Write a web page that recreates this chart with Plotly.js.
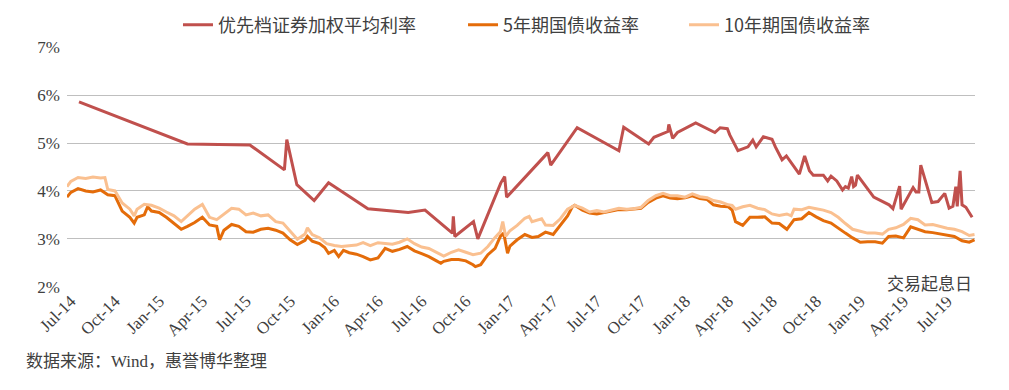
<!DOCTYPE html>
<html>
<head>
<meta charset="utf-8">
<script src="https://cdn.plot.ly/plotly-3.0.1.min.js"></script>
<style>html,body{margin:0;padding:0;background:#fff;}#chart{width:1009px;height:390px;}</style>
</head>
<body>
<div id="chart"></div>
<script>
// 优先档证券加权平均利率
const seniorDates = ["2014-07-18","2015-03-01","2015-07-09","2015-09-19","2015-09-24","2015-10-15","2015-11-20","2015-12-20","2016-03-11","2016-06-03","2016-07-08","2016-09-03","2016-09-05","2016-09-08","2016-10-17","2016-10-26","2016-12-13","2016-12-21","2016-12-25","2017-03-21","2017-03-27","2017-05-21","2017-08-16","2017-08-26","2017-10-17","2017-10-28","2017-11-26","2017-11-28","2017-12-06","2017-12-16","2018-01-23","2018-03-04","2018-03-15","2018-03-30","2018-04-04","2018-04-21","2018-05-12","2018-05-22","2018-05-29","2018-06-13","2018-07-01","2018-07-08","2018-07-22","2018-07-31","2018-08-27","2018-09-07","2018-09-17","2018-09-25","2018-10-16","2018-10-25","2018-11-01","2018-11-13","2018-11-25","2018-12-01","2018-12-07","2018-12-14","2018-12-18","2018-12-22","2018-12-26","2019-01-29","2019-03-02","2019-03-10","2019-03-24","2019-03-27","2019-04-21","2019-04-27","2019-05-03","2019-05-07","2019-05-30","2019-06-12","2019-06-26","2019-07-05","2019-07-13","2019-07-19","2019-07-22","2019-07-28","2019-08-01","2019-08-09","2019-08-22"];
const seniorVals = [5.86,4.98,4.96,4.44,5.07,4.13,3.80,4.17,3.63,3.55,3.60,3.12,3.47,3.05,3.36,3.00,4.17,4.30,3.87,4.80,4.54,5.32,4.84,5.33,4.98,5.12,5.24,5.39,5.10,5.22,5.42,5.22,5.32,5.30,5.17,4.84,4.92,5.06,4.92,5.13,5.08,4.92,4.65,4.73,4.35,4.73,4.42,4.33,4.33,4.21,4.31,4.21,4.02,4.09,4.06,4.30,4.09,4.12,4.33,3.87,3.71,3.63,4.10,3.62,4.07,3.98,3.98,4.54,3.76,3.78,3.95,3.64,3.68,4.09,3.68,4.42,3.71,3.66,3.45];

// 5年期国债收益率
const y5Dates = ["2014-06-23","2014-07-01","2014-07-16","2014-08-01","2014-08-16","2014-09-01","2014-09-16","2014-10-01","2014-10-16","2014-11-01","2014-11-10","2014-11-16","2014-12-01","2014-12-08","2014-12-16","2015-01-01","2015-01-16","2015-02-01","2015-02-16","2015-03-01","2015-03-16","2015-04-01","2015-04-16","2015-05-01","2015-05-07","2015-05-16","2015-06-01","2015-06-16","2015-07-01","2015-07-16","2015-08-01","2015-08-16","2015-09-01","2015-09-16","2015-10-01","2015-10-16","2015-11-01","2015-11-06","2015-11-16","2015-12-01","2015-12-12","2015-12-20","2016-01-01","2016-01-10","2016-01-20","2016-02-01","2016-02-16","2016-03-01","2016-03-16","2016-04-01","2016-04-16","2016-05-01","2016-05-16","2016-06-01","2016-06-16","2016-07-01","2016-07-16","2016-08-01","2016-08-10","2016-08-16","2016-09-01","2016-09-16","2016-10-01","2016-10-16","2016-10-21","2016-11-01","2016-11-16","2016-12-01","2016-12-12","2016-12-19","2016-12-27","2017-01-01","2017-01-16","2017-02-01","2017-02-16","2017-03-01","2017-03-16","2017-04-01","2017-04-16","2017-05-01","2017-05-11","2017-05-16","2017-06-01","2017-06-16","2017-07-01","2017-07-16","2017-08-01","2017-08-16","2017-09-01","2017-09-16","2017-10-01","2017-10-16","2017-11-01","2017-11-16","2017-12-01","2017-12-16","2018-01-01","2018-01-16","2018-02-01","2018-02-16","2018-03-01","2018-03-16","2018-04-01","2018-04-09","2018-04-16","2018-05-01","2018-05-16","2018-06-01","2018-06-16","2018-07-01","2018-07-16","2018-08-01","2018-08-16","2018-09-01","2018-09-16","2018-10-01","2018-10-16","2018-11-01","2018-11-16","2018-12-01","2018-12-16","2019-01-01","2019-01-16","2019-02-01","2019-02-16","2019-03-01","2019-03-16","2019-04-01","2019-04-16","2019-05-01","2019-05-16","2019-06-01","2019-06-16","2019-07-01","2019-07-16","2019-08-01","2019-08-16","2019-08-27"];
const y5Vals = [3.87,3.97,4.05,4.00,3.98,4.02,3.92,3.90,3.58,3.45,3.33,3.45,3.50,3.67,3.58,3.55,3.45,3.32,3.20,3.26,3.34,3.45,3.29,3.26,2.98,3.18,3.30,3.26,3.15,3.14,3.20,3.22,3.18,3.12,2.98,2.88,2.97,3.05,2.95,2.90,2.82,2.70,2.76,2.63,2.76,2.71,2.68,2.63,2.56,2.60,2.80,2.74,2.78,2.84,2.75,2.69,2.63,2.54,2.49,2.53,2.57,2.57,2.54,2.46,2.42,2.46,2.67,2.80,3.05,3.12,2.70,2.85,2.98,3.09,3.03,3.05,3.14,3.09,3.28,3.48,3.67,3.70,3.60,3.54,3.52,3.55,3.57,3.61,3.61,3.62,3.64,3.76,3.85,3.90,3.85,3.84,3.86,3.90,3.84,3.82,3.71,3.68,3.67,3.60,3.36,3.28,3.45,3.45,3.46,3.33,3.32,3.20,3.40,3.42,3.55,3.46,3.38,3.33,3.22,3.12,3.02,2.93,2.94,2.94,2.91,3.05,3.06,3.02,3.25,3.20,3.15,3.13,3.10,3.07,3.05,2.96,2.93,2.98];

// 10年期国债收益率
const y10Dates = ["2014-06-23","2014-07-01","2014-07-16","2014-08-01","2014-08-16","2014-09-01","2014-09-10","2014-09-16","2014-10-01","2014-10-16","2014-11-01","2014-11-10","2014-11-16","2014-12-01","2014-12-16","2015-01-01","2015-01-16","2015-02-01","2015-02-16","2015-03-01","2015-03-16","2015-04-01","2015-04-16","2015-05-01","2015-05-16","2015-06-01","2015-06-16","2015-07-01","2015-07-16","2015-08-01","2015-08-16","2015-09-01","2015-09-16","2015-10-01","2015-10-16","2015-11-01","2015-11-06","2015-11-16","2015-12-01","2015-12-16","2016-01-01","2016-01-16","2016-02-01","2016-02-16","2016-03-01","2016-03-16","2016-04-01","2016-04-16","2016-05-01","2016-05-16","2016-06-01","2016-06-16","2016-07-01","2016-07-16","2016-08-01","2016-08-16","2016-09-01","2016-09-16","2016-10-01","2016-10-16","2016-11-01","2016-11-16","2016-12-01","2016-12-12","2016-12-17","2016-12-23","2017-01-01","2017-01-16","2017-02-01","2017-02-10","2017-02-16","2017-03-01","2017-03-08","2017-03-16","2017-04-01","2017-04-16","2017-05-01","2017-05-16","2017-06-01","2017-06-16","2017-07-01","2017-07-16","2017-08-01","2017-08-16","2017-09-01","2017-09-16","2017-10-01","2017-10-16","2017-11-01","2017-11-16","2017-12-01","2017-12-16","2018-01-01","2018-01-16","2018-02-01","2018-02-16","2018-03-01","2018-03-16","2018-04-01","2018-04-09","2018-04-16","2018-05-01","2018-05-16","2018-06-01","2018-06-16","2018-07-01","2018-07-16","2018-08-01","2018-08-10","2018-08-16","2018-09-01","2018-09-16","2018-10-01","2018-10-16","2018-11-01","2018-11-16","2018-12-01","2018-12-16","2019-01-01","2019-01-16","2019-02-01","2019-02-16","2019-03-01","2019-03-16","2019-04-01","2019-04-16","2019-05-01","2019-05-16","2019-06-01","2019-06-16","2019-07-01","2019-07-16","2019-08-01","2019-08-16","2019-08-27"];
const y10Vals = [4.09,4.20,4.28,4.26,4.29,4.27,4.28,4.03,4.00,3.75,3.62,3.48,3.62,3.72,3.70,3.64,3.56,3.48,3.36,3.48,3.62,3.72,3.45,3.40,3.52,3.64,3.62,3.50,3.54,3.48,3.50,3.36,3.33,3.15,2.99,3.10,3.23,3.09,3.02,2.90,2.86,2.84,2.85,2.87,2.92,2.86,2.92,2.90,2.89,2.93,3.00,2.90,2.83,2.80,2.72,2.64,2.72,2.77,2.72,2.67,2.70,2.84,3.03,3.15,3.36,3.05,3.17,3.28,3.43,3.47,3.36,3.40,3.42,3.29,3.28,3.42,3.62,3.70,3.64,3.56,3.59,3.56,3.60,3.64,3.62,3.63,3.66,3.80,3.90,3.95,3.90,3.90,3.87,3.94,3.88,3.86,3.80,3.77,3.71,3.70,3.62,3.67,3.70,3.64,3.61,3.52,3.49,3.52,3.48,3.62,3.61,3.66,3.63,3.60,3.55,3.45,3.32,3.20,3.16,3.12,3.12,3.10,3.20,3.23,3.30,3.43,3.40,3.29,3.30,3.26,3.22,3.20,3.15,3.07,3.09];

const seriesNames = ["优先档证券加权平均利率", "5年期国债收益率", "10年期国债收益率"];
const axisLabel = "交易起息日";
const sourceNote = "数据来源：Wind，惠誉博华整理";

const SERIF = "Liberation Serif";
const NOTE = "Liberation Serif, Noto Sans CJK SC, serif";
const CJK = "Noto Sans CJK SC, sans-serif";

const traces = [
  {x: seniorDates, y: seniorVals, name: seriesNames[0], type: 'scatter', mode: 'lines',
   line: {color: '#C0504D', width: 3}, legend: 'legend'},
  {x: y5Dates, y: y5Vals, name: seriesNames[1], type: 'scatter', mode: 'lines',
   line: {color: '#E46C0A', width: 3}, legend: 'legend2'},
  {x: y10Dates, y: y10Vals, name: seriesNames[2], type: 'scatter', mode: 'lines',
   line: {color: '#FAC090', width: 3}, legend: 'legend3'}
];

function leg(x) {
  return {orientation: 'h', xref: 'container', yref: 'container', x: x, xanchor: 'left',
    y: 0.936, yanchor: 'middle', bgcolor: 'rgba(0,0,0,0)',
    font: {family: CJK, size: 18, color: '#404040'}, itemwidth: 30};
}

const layout = {
  width: 1009, height: 390,
  margin: {l: 67, r: 34, t: 47, b: 103, autoexpand: false},
  paper_bgcolor: '#ffffff', plot_bgcolor: '#ffffff',
  showlegend: true,
  legend: leg(0.1764),
  legend2: leg(0.4589),
  legend3: leg(0.6779),
  xaxis: {type: 'date', range: ['2014-06-23', '2019-08-28'],
    tick0: '2014-07-01', dtick: 'M3', tickformat: '%b-%y', tickangle: -45,
    showgrid: false, zeroline: false, showline: false, ticks: '',
    tickfont: {family: SERIF, size: 17, color: '#404040'}},
  yaxis: {range: [1.995, 7.005], dtick: 1, tick0: 2, ticksuffix: '%',
    showgrid: true, gridcolor: '#BFBFBF', gridwidth: 1, zeroline: false, showline: false,
    ticks: '', ticklabelstandoff: 6, tickfont: {family: SERIF, size: 17, color: '#404040'}},
  annotations: [
    {text: axisLabel, xref: 'paper', yref: 'y', x: 1.0, y: 2, xanchor: 'right', yanchor: 'middle',
     yshift: 4, showarrow: false, bgcolor: '#ffffff', borderpad: 2,
     font: {family: CJK, size: 17, color: '#404040'}},
    {text: sourceNote, xref: 'paper', yref: 'paper', x: -0.047, y: -0.31, xanchor: 'left', yanchor: 'middle',
     showarrow: false, font: {family: NOTE, size: 17, color: '#404040'}}
  ]
};

Plotly.newPlot('chart', traces, layout, {displayModeBar: false, staticPlot: true});
</script>
</body>
</html>
